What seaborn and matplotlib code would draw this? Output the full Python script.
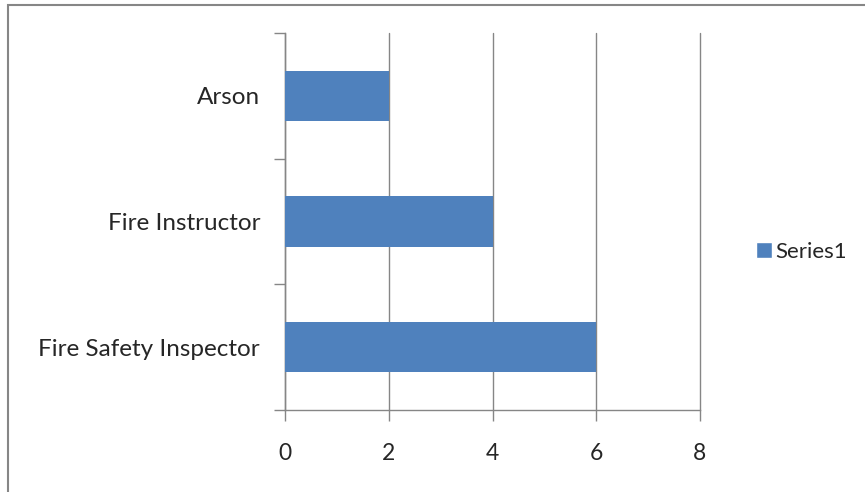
import matplotlib
matplotlib.use('Agg')
import matplotlib.pyplot as plt
import seaborn as sns
import pandas as pd
from matplotlib.patches import Rectangle, Patch

# data
categories = ['Arson', 'Fire Instructor', 'Fire Safety Inspector']
values = [2, 4, 6]
series_name = 'Series1'
xticks = [0, 2, 4, 6, 8]

df = pd.DataFrame({'job': categories, 'count': values})

sns.set_style('white')
plt.rcParams['font.family'] = ['Lato', 'DejaVu Sans']

bar_color = '#4F81BD'
grid_color = '#868686'

fig = plt.figure(figsize=(8.65, 4.92), dpi=100)
ax = fig.add_axes([285 / 865, 1 - 410 / 492, 415 / 865, 377 / 492])

sns.barplot(data=df, x='count', y='job', order=categories, color=bar_color,
            width=0.4, saturation=1, linewidth=0, edgecolor='none', ax=ax, zorder=3)

ax.set_xlim(0, 8)
ax.set_ylim(2.5, -0.5)
ax.set_xticks(xticks)
ax.set_xlabel('')
ax.set_ylabel('')
ax.grid(axis='x', color=grid_color, linewidth=1, zorder=0)
ax.grid(axis='y', visible=False)
for gl in ax.get_xgridlines():
    gl.set_clip_on(False)

for side in ['top', 'right']:
    ax.spines[side].set_visible(False)
for side in ['left', 'bottom']:
    ax.spines[side].set_color(grid_color)
    ax.spines[side].set_linewidth(1)

# category boundary ticks on y, labels without ticks
ax.set_yticks([-0.5, 0.5, 1.5, 2.5], minor=True)
ax.tick_params(axis='y', which='minor', left=True, length=8, width=1, color=grid_color)
ax.tick_params(axis='y', which='major', left=True, length=0, pad=18, labelsize=17.5)
ax.tick_params(axis='x', which='major', bottom=True, length=8, width=1, color=grid_color,
               pad=16, labelsize=16.5)

ax.legend(handles=[Patch(facecolor=bar_color, label=series_name)],
          loc='center left', bbox_to_anchor=(756 / 865, 1 - 252 / 492),
          bbox_transform=fig.transFigure, frameon=False, fontsize=16,
          handlelength=0.7, handleheight=0.7, handletextpad=0.15, borderpad=0,
          borderaxespad=0)

# outer chart border (cropped at right and bottom)
fig.patches.append(Rectangle((8 / 865, -0.1), 1.2, 1 - 5 / 492 + 0.1,
                             transform=fig.transFigure, fill=False,
                             edgecolor=grid_color, linewidth=1.5))

fig.savefig('out.png', dpi=100)
